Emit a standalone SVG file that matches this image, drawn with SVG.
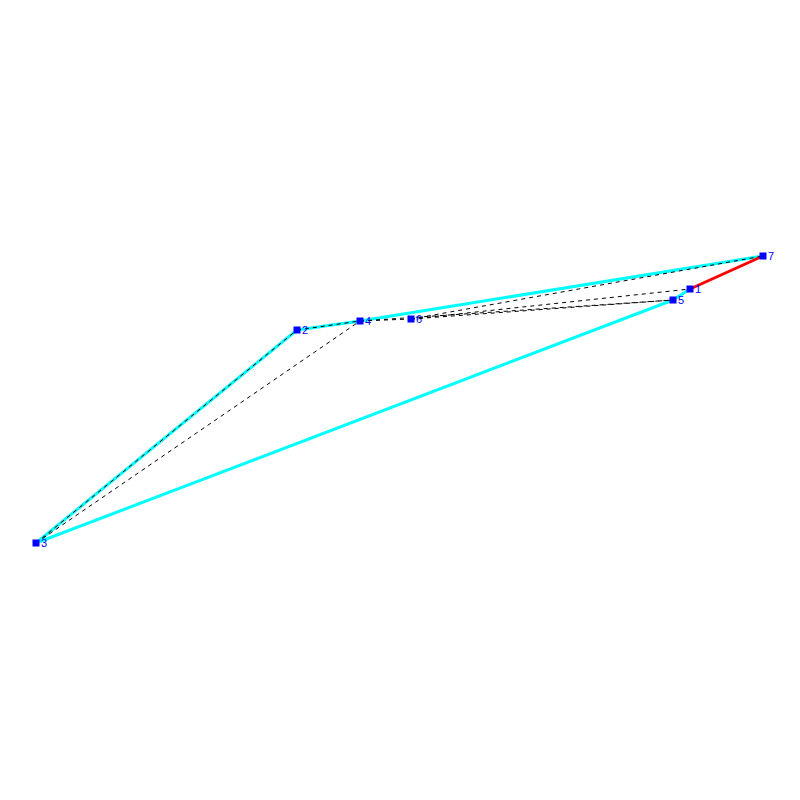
<svg xmlns="http://www.w3.org/2000/svg" width="800" height="800" viewBox="0 0 800 800">
<style>
.hull{stroke:#00ffff;stroke-width:3;fill:none}
.red{stroke:#ff0000;stroke-width:3;fill:none}
.dash{stroke:#000;stroke-width:1;stroke-dasharray:4,4;fill:none}
.node rect{fill:#0000ff}
.node text{fill:#0000ff;font-family:"Liberation Sans",Arial,sans-serif;font-size:11px}
</style>
<rect width="800" height="800" fill="#fff"/>
<g id="connectors">
<line class="hull" x1="36" y1="543" x2="297" y2="330"/>
<line class="hull" x1="297" y1="330" x2="360" y2="321"/>
<line class="hull" x1="360" y1="321" x2="763" y2="256"/>
<line class="hull" x1="36" y1="543" x2="673" y2="300"/>
<line class="hull" x1="673" y1="300" x2="690" y2="289"/>
<line class="red" x1="690" y1="289" x2="763" y2="256"/>
<line class="dash" x1="36" y1="543" x2="297" y2="330"/>
<line class="dash" x1="36" y1="543" x2="360" y2="321"/>
<line class="dash" x1="297" y1="330" x2="360" y2="321"/>
<line class="dash" x1="360" y1="321" x2="411" y2="319"/>
<line class="dash" x1="411" y1="319" x2="763" y2="256"/>
<line class="dash" x1="411" y1="319" x2="690" y2="289"/>
<line class="dash" x1="411" y1="319" x2="673" y2="300"/>
<line class="dash" x1="360" y1="321" x2="673" y2="300"/>
</g>
<g id="n1" class="node"><rect x="686.5" y="285.5" width="7" height="7"/><text x="695" y="293">1</text></g>
<g id="n2" class="node"><rect x="293.5" y="326.5" width="7" height="7"/><text x="302" y="334">2</text></g>
<g id="n3" class="node"><rect x="32.5" y="539.5" width="7" height="7"/><text x="41" y="547">3</text></g>
<g id="n4" class="node"><rect x="356.5" y="317.5" width="7" height="7"/><text x="365" y="325">4</text></g>
<g id="n5" class="node"><rect x="669.5" y="296.5" width="7" height="7"/><text x="678" y="304">5</text></g>
<g id="n6" class="node"><rect x="407.5" y="315.5" width="7" height="7"/><text x="416" y="323">6</text></g>
<g id="n7" class="node"><rect x="759.5" y="252.5" width="7" height="7"/><text x="768" y="260">7</text></g>
</svg>
